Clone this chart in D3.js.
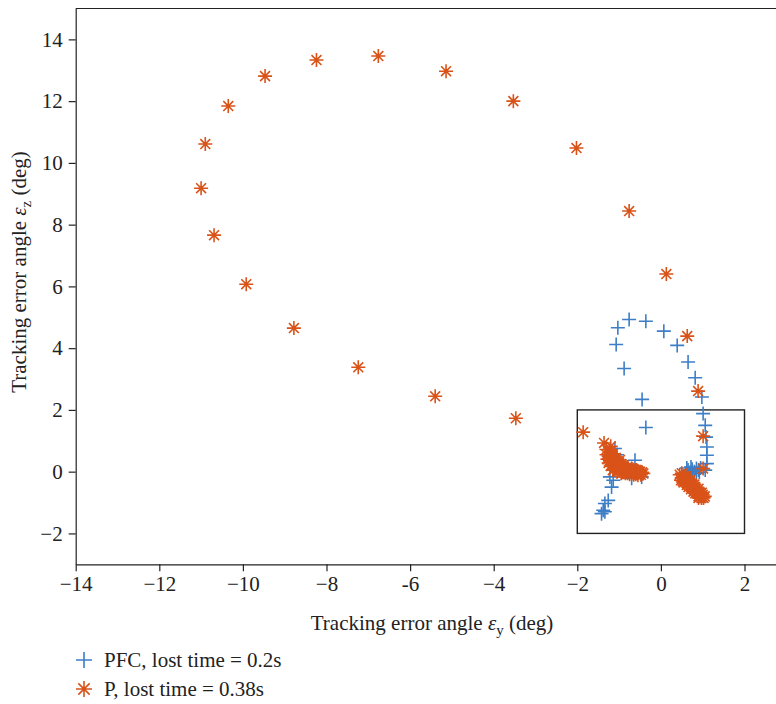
<!DOCTYPE html>
<html><head><meta charset="utf-8">
<script src="https://cdn.jsdelivr.net/npm/d3@7"></script>
<style>body{margin:0;background:#fff}svg{display:block}text{font-family:"Liberation Serif","DejaVu Serif",serif;fill:#222}</style>
</head><body>
<script>
const xTicks = [-14,-12,-10,-8,-6,-4,-2,0,2];
const xTickLabels = ["\u221214","\u221212","\u221210","\u22128","-6","\u22124","\u22122","0","2"];
const yTicks = [-2,0,2,4,6,8,10,12,14];
const yTickLabels = ["\u22122","0","2","4","6","8","10","12","14"];
const seriesNames = ["PFC, lost time = 0.2s","P, lost time = 0.38s"];
const pfcPoints = [
[-0.76,4.93],[-0.36,4.87],[-1.03,4.66],[0.07,4.55],[-1.07,4.12],[0.39,4.09],[0.65,3.55],[-0.88,3.34],
[0.82,3.04],[0.98,2.42],[-0.45,2.34],[1.01,1.88],[1.06,1.5],[-0.36,1.43],[1.08,1.12],[1.1,0.8],
[1.1,0.53],[1.1,0.26],[1.06,0.05],
[0.95,0.12],[0.9,0.05],[0.85,0.1],[0.8,0.0],[0.75,0.08],[0.7,-0.02],[0.65,0.05],[0.6,-0.05],
[0.62,0.12],[0.72,0.15],[0.85,-0.05],[0.92,-0.02],[0.68,-0.1],
[-0.62,0.37],[-1.10,0.75],[-1.05,0.55],[-0.46,-0.17],[-0.70,-0.21],[-1.22,-0.17],[-0.9,-0.02],
[-1.14,-0.28],[-1.18,-0.50],[-1.26,-0.93],[-1.34,-1.03],[-1.38,-1.25],[-1.42,-1.36],[-1.34,-1.3]
];
const pPoints = [
[-1.86,1.28],[-3.47,1.73],[-5.40,2.44],[-7.24,3.38],[-8.78,4.65],[-9.92,6.07],[-10.69,7.66],
[-11.0,9.18],[-10.9,10.61],[-10.35,11.84],[-9.47,12.81],[-8.24,13.33],[-6.76,13.46],[-5.14,12.97],
[-3.53,12.0],[-2.02,10.48],[-0.76,8.44],[0.13,6.40],[0.63,4.39],[0.89,2.61],[1.01,1.15],[1.01,0.10],
[-1.36,0.93],[-1.2,0.82],[-1.3,0.72],[-1.22,0.65],[-1.3,0.55],[-1.2,0.48],[-1.28,0.4],[-1.15,0.35],
[-1.25,0.28],[-1.1,0.25],[-1.2,0.18],[-1.05,0.15],[-1.12,0.08],[-0.98,0.1],[-1.0,0.02],[-0.9,0.08],
[-0.92,-0.02],[-0.82,0.05],[-0.8,-0.05],[-0.72,0.02],[-0.7,-0.07],[-0.62,0.0],[-0.6,-0.08],[-0.52,-0.03],
[-0.48,-0.1],[-0.42,-0.06],[-1.08,0.45],[-1.0,0.3],[-0.9,0.2],[-0.8,0.15],[-0.7,0.1],
[-1.2,0.6],[-1.15,0.5],[-1.1,0.4],[-1.05,0.35],[-1.18,0.3],[-1.12,0.2],[-1.02,0.22],[-0.95,0.15],
[-0.85,0.12],[-0.75,0.05],[-0.65,0.06],[-0.55,0.02],[-1.05,0.0],[-0.95,-0.05],[-0.85,-0.05],
[-0.75,-0.08],[-0.65,-0.1],[-0.55,-0.12],
[-1.25,0.5],[-1.22,0.35],[-1.18,0.22],[-1.08,0.12],[-1.0,0.18],[-0.95,0.25],[-1.05,0.28],[-1.12,0.33],
[-0.88,0.0],[-0.78,0.1],[-0.68,0.0],[-0.58,0.05],[-0.5,0.0],[-0.45,-0.02],[-1.15,0.05],[-1.1,0.1],
[-0.98,0.38],[-1.15,0.58],
[0.45,-0.1],[0.5,-0.2],[0.55,-0.15],[0.58,-0.3],[0.62,-0.25],[0.65,-0.4],[0.7,-0.35],[0.72,-0.5],
[0.76,-0.45],[0.8,-0.6],[0.84,-0.55],[0.88,-0.7],[0.92,-0.65],[0.95,-0.8],[1.0,-0.75],[1.02,-0.85],
[0.9,-0.8],[0.78,-0.65],[0.66,-0.5],[0.54,-0.35],[0.48,-0.28],
[0.6,-0.15],[0.52,-0.3],[0.7,-0.28],[0.62,-0.43],[0.8,-0.42],[0.72,-0.57],[0.9,-0.55],[0.82,-0.7],
[0.98,-0.68],[0.9,-0.85],
[0.5,-0.05],[0.58,-0.2],[0.65,-0.3],[0.68,-0.45],[0.75,-0.52],[0.82,-0.5],[0.86,-0.62],[0.93,-0.72],
[0.97,-0.85],[1.05,-0.8],[0.55,-0.25],[0.74,-0.38]
];
const insetBox = [-2,2,-2,2]; // x0,x1,y0,y1
const colors = ["#3d7ec6","#d95319"];

const W=776,H=704;
const svg=d3.select("body").append("svg").attr("width",W).attr("height",H);
const x=d3.scaleLinear().domain([-14,3]).range([75.7,75.7+17*41.8]);
const y=d3.scaleLinear().domain([-3,15]).range([564.3,8.5]);

const plusPath=r=>`M${-r},0H${r}M0,${-r}V${r}`;
const starPath=r=>{const d=r*0.7071;return `M${-r},0H${r}M0,${-r}V${r}M${-d},${-d}L${d},${d}M${-d},${d}L${d},${-d}`;};

const FS="21px";
// axes
const gx=svg.append("g").attr("transform",`translate(0,${y(-3)})`)
  .call(d3.axisBottom(x).tickValues(xTicks).tickFormat((d,i)=>xTickLabels[i]).tickSizeInner(7).tickSizeOuter(0).tickPadding(5));
const gy=svg.append("g").attr("transform",`translate(${x(-14)},0)`)
  .call(d3.axisLeft(y).tickValues(yTicks).tickFormat((d,i)=>yTickLabels[i]).tickSizeInner(7).tickSizeOuter(0).tickPadding(6));
[gx,gy].forEach(g=>{g.selectAll("text").style("font-size",FS).attr("fill","#222");g.selectAll("line,path").attr("stroke","#222").attr("stroke-width",1.2);});
// top spine
svg.append("line").attr("x1",x(-14)).attr("x2",W).attr("y1",y(15)).attr("y2",y(15)).attr("stroke","#222").attr("stroke-width",1.2);

// inset box
svg.append("rect").attr("x",x(insetBox[0])).attr("y",y(insetBox[3]))
  .attr("width",x(insetBox[1])-x(insetBox[0])).attr("height",y(insetBox[2])-y(insetBox[3]))
  .attr("fill","none").attr("stroke","#222").attr("stroke-width",1.4);

// markers
svg.append("g").selectAll("path").data(pfcPoints).join("path")
  .attr("d",plusPath(7)).attr("transform",d=>`translate(${x(d[0])},${y(d[1])})`)
  .attr("stroke",colors[0]).attr("stroke-width",1.6).attr("fill","none");
svg.append("g").selectAll("path").data(pPoints).join("path")
  .attr("d",starPath(7)).attr("transform",d=>`translate(${x(d[0])},${y(d[1])})`)
  .attr("stroke",colors[1]).attr("stroke-width",1.6).attr("fill","none");

// axis titles
const xt=svg.append("text").attr("x",432).attr("y",630).attr("text-anchor","middle").style("font-size",FS);
xt.append("tspan").text("Tracking error angle ");
xt.append("tspan").text("\u03b5").style("font-style","italic");
xt.append("tspan").text("y").attr("dy",5).style("font-size","15px");
xt.append("tspan").text(" (deg)").attr("dy",-5);
const yt=svg.append("text").attr("transform","translate(26,272) rotate(-90)").attr("text-anchor","middle").style("font-size",FS);
yt.append("tspan").text("Tracking error angle ");
yt.append("tspan").text("\u03b5").style("font-style","italic");
yt.append("tspan").text("z").attr("dy",5).style("font-size","15px");
yt.append("tspan").text(" (deg)").attr("dy",-5);

// legend
const leg=svg.append("g");
seriesNames.forEach((n,i)=>{
  const cy=660+i*29;
  leg.append("path").attr("d",i===0?plusPath(8):starPath(8)).attr("transform",`translate(84,${cy})`)
    .attr("stroke",colors[i]).attr("stroke-width",1.6).attr("fill","none");
  leg.append("text").attr("x",104).attr("y",cy+7).text(n).style("font-size",FS);
});
</script>
</body></html>
